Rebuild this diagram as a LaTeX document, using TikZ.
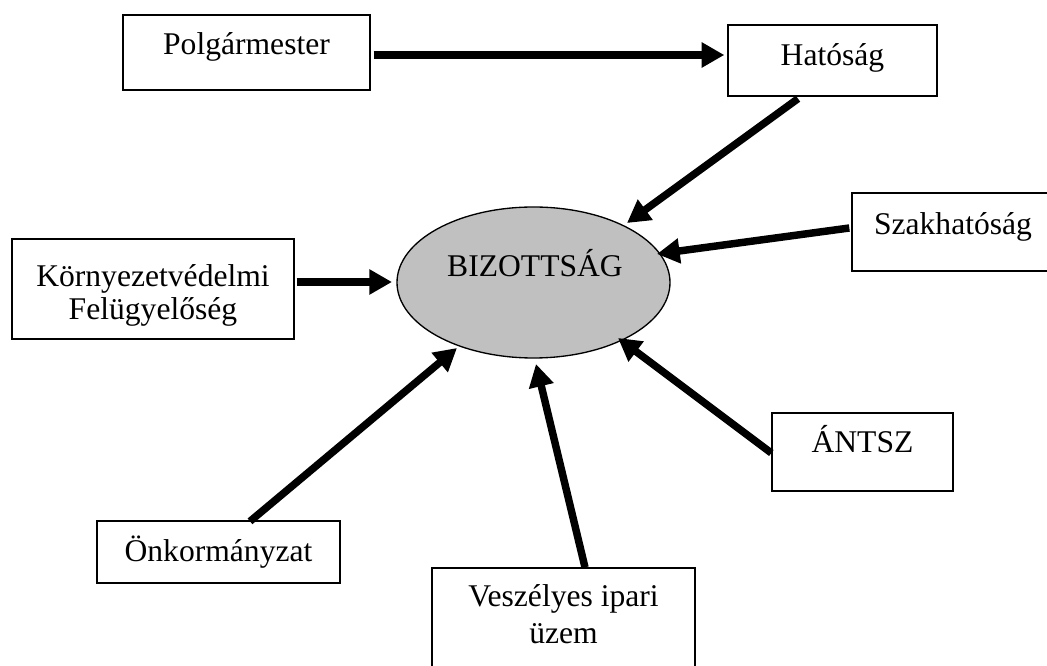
\documentclass[tikz,border=0pt]{standalone}
\usepackage{fontspec}
\setmainfont{Liberation Serif}
\usetikzlibrary{arrows.meta,shapes.geometric,calc}
\begin{document}
\begin{tikzpicture}[x=0.75pt,y=-0.75pt,
  box/.style={draw=black,line width=1pt,rectangle,inner sep=0pt},
  lbl/.style={inner sep=0pt,anchor=base,align=center,
    font=\fontsize{23.7pt}{27.4pt}\selectfont},
  flow/.style={line width=5.6pt,
    -{Triangle[length=17pt,width=18pt]}},
]
\useasboundingbox (0,0) rectangle (1047,666);
\clip (0,0) rectangle (1047,666);

% boxes
\node[box,minimum width=185.25pt,minimum height=56.25pt] (polg) at (246.5,52.5) {};
\node[box,minimum width=156.75pt,minimum height=53.25pt] (hat) at (832.5,60.5) {};
\node[box,minimum width=151.5pt,minimum height=58.5pt] (szak) at (953,232) {};
\node[box,minimum width=211.5pt,minimum height=75pt] (korny) at (153,289) {};
\node[box,minimum width=182.25pt,minimum height=46.5pt] (onk) at (218.5,552) {};
\node[box,minimum width=197.25pt,minimum height=84pt] (vesz) at (563.5,624) {};
\node[box,minimum width=135.75pt,minimum height=58.5pt] (antsz) at (862.5,452) {};
\node[ellipse,draw=black,line width=1pt,fill={rgb,255:red,192;green,192;blue,192},
  minimum width=204.75pt,minimum height=113.25pt,inner sep=0pt] (biz) at (533.5,282.5) {};

% labels
\node[lbl] (tpolg) at (246.5,55) {Polgármester};
\node[lbl] (that) at (832.5,66) {Hatóság};
\node[lbl] (tszak) at (953,235) {Szakhatóság};
\node[lbl] (tbiz) at (535,277) {BIZOTTSÁG};
\node[lbl] (tantsz) at (862.5,453) {ÁNTSZ};
\node[lbl] (tonk) at (218.5,562) {Önkormányzat};
\node[lbl] (tkorny1) at (153,287) {Környezetvédelmi};
\node[lbl] (tkorny2) at (153,320) {Felügyelőség};
\node[lbl] (tvesz1) at (563.5,607) {Veszélyes ipari};
\node[lbl] (tvesz2) at (563.5,643) {üzem};

% connectors
\draw[flow] ($(polg.east)+(3,2.5)$) -- ($(hat.west)+(-3,-5.5)$);
\draw[flow] ($(hat.south)+(-34.5,2)$) -- ($(biz.center)+(93.5,-59.5)$);
\draw[flow] ($(szak.west)+(-2,-4)$) -- ($(biz.center)+(123.5,-28.5)$);
\draw[flow] ($(korny.east)+(2,-7)$) -- ($(biz.center)+(-141.5,-0.5)$);
\draw[flow] ($(onk.north)+(31.5,1)$) -- ($(biz.center)+(-76.5,65.5)$);
\draw[flow] ($(vesz.north)+(21.5,0)$) -- ($(biz.center)+(2.5,81.5)$);
\draw[flow] ($(antsz.west)+(0,1)$) -- ($(biz.center)+(84.5,55.5)$);
\end{tikzpicture}
\end{document}
